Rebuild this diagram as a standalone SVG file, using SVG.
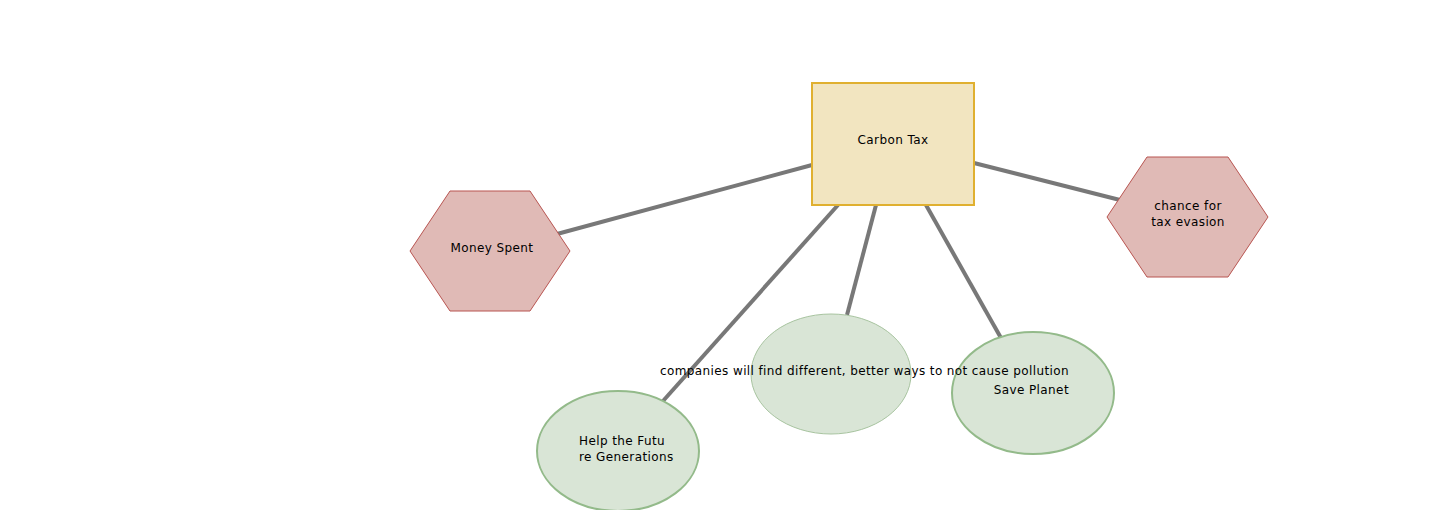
<svg xmlns="http://www.w3.org/2000/svg" width="1440" height="510" viewBox="0 0 1440 510">
<style>
.edge{stroke:#787878;stroke-width:4;fill:none}
.hex{fill:#e0bab6;stroke:#b85450;stroke-width:1}
.ell{fill:#d9e5d6;stroke:#93ba8a;stroke-width:2}
.thin{stroke:#a8c4a0;stroke-width:1}
.t{font-family:"DejaVu Sans","Liberation Sans",sans-serif;font-size:12px;fill:#000;letter-spacing:0.4px}
</style>
<rect width="1440" height="510" fill="#fff"/>
<g id="connectors">
<line class="edge" x1="812" y1="165" x2="557" y2="234"/>
<line class="edge" x1="974" y1="163" x2="1120" y2="200"/>
<line class="edge" x1="838" y1="205" x2="663" y2="401"/>
<line class="edge" x1="876" y1="205" x2="847" y2="315"/>
<line class="edge" x1="926" y1="205" x2="1001" y2="338"/>
</g>
<g id="carbon-tax">
<rect x="812" y="83" width="162" height="122" fill="#f2e5c0" stroke="#e0b030" stroke-width="2"/>
<text class="t" x="893" y="144" text-anchor="middle">Carbon Tax</text>
</g>
<g id="money-spent">
<polygon class="hex" points="410,251 450,191 530,191 570,251 530,311 450,311"/>
<text class="t" x="492" y="252" text-anchor="middle">Money Spent</text>
</g>
<g id="tax-evasion">
<polygon class="hex" points="1107,217 1147,157 1228,157 1268,217 1228,277 1147,277"/>
<text class="t" x="1188" y="210" text-anchor="middle">chance for</text>
<text class="t" x="1188" y="226" text-anchor="middle">tax evasion</text>
</g>
<g id="companies">
<ellipse class="ell thin" cx="831" cy="374" rx="80" ry="60"/>
</g>
<g id="save-planet">
<ellipse class="ell" cx="1033" cy="393" rx="81" ry="61"/>
</g>
<g id="future-generations">
<ellipse class="ell" cx="618" cy="451" rx="81" ry="60"/>
<text class="t" x="579" y="445">Help the Futu</text>
<text class="t" x="579" y="461">re Generations</text>
</g>
<g id="labels">
<text class="t" x="1069" y="375" text-anchor="end" textLength="409" lengthAdjust="spacing">companies will find different, better ways to not cause pollution</text>
<text class="t" x="1069" y="394" text-anchor="end">Save Planet</text>
</g>
</svg>
